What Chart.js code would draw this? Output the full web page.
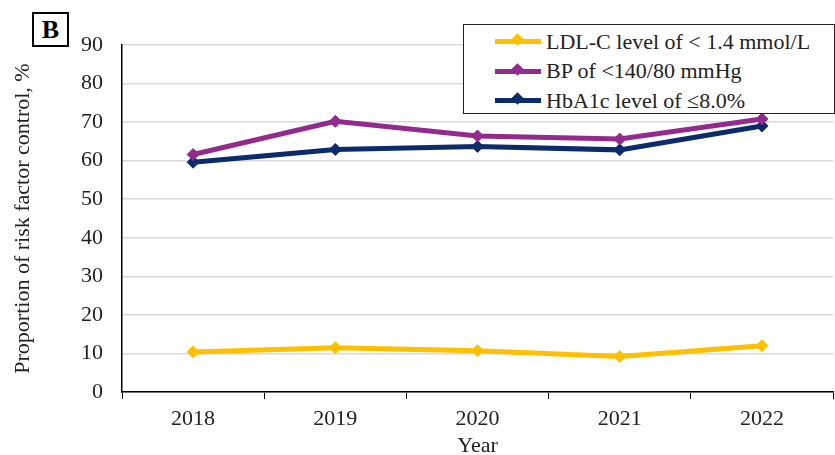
<!DOCTYPE html>
<html>
<head>
<meta charset="utf-8">
<script src="https://cdn.jsdelivr.net/npm/chart.js@4"></script>
<style>
  html,body{margin:0;padding:0;background:#fff;}
  #wrap{position:relative;width:835px;height:455px;font-family:"Liberation Serif","Times New Roman",serif;}
  canvas{position:absolute;left:0;top:0;}
  .tag{position:absolute;left:32px;top:12px;width:37px;height:35px;border:2px solid #000;box-sizing:border-box;
       font-weight:bold;font-size:26px;line-height:32px;text-align:center;background:#fff;}
  .legend{position:absolute;left:463px;top:24px;width:372px;height:90px;border:1.5px solid #222;box-sizing:border-box;
          background:#fff;padding-top:2px;}
  .row{height:29.5px;display:flex;align-items:center;font-size:22px;color:#222;}
  .sw{position:relative;width:46px;height:5px;margin-left:31px;margin-right:5px;}
  .sw i{position:absolute;left:18px;top:-4px;width:9px;height:9px;transform:rotate(45deg);}
</style>
</head>
<body>
<div id="wrap">
  <canvas id="c" width="835" height="455"></canvas>
  <div class="tag">B</div>
  <div class="legend" id="legend"></div>
</div>
<script>
const years  = ['2018','2019','2020','2021','2022'];
const ldl    = [10.4, 11.5, 10.7, 9.2, 12.0];
const bp     = [61.6, 70.2, 66.4, 65.6, 70.8];
const hba1c  = [59.6, 62.9, 63.7, 62.8, 69.0];
const names  = ['LDL-C level of < 1.4 mmol/L', 'BP of <140/80 mmHg', 'HbA1c level of \u22648.0%'];
const colors = ['#FFC000', '#932B8E', '#0C2B6B'];

const FONT = '"Liberation Serif","Times New Roman",serif';
const ds = (label, data, color) => ({
  label, data, borderColor: color, backgroundColor: color, borderWidth: 5,
  pointStyle: 'rectRot', pointRadius: 6, pointHoverRadius: 6, pointBorderWidth: 1, tension: 0
});

new Chart(document.getElementById('c'), {
  type: 'line',
  data: { labels: years, datasets: [ds(names[0], ldl, colors[0]), ds(names[1], bp, colors[1]), ds(names[2], hba1c, colors[2])] },
  options: {
    responsive: false, animation: false,
    layout: { autoPadding: false, padding: { left: 0, top: 45, right: 2, bottom: 0 } },
    plugins: { legend: { display: false }, tooltip: { enabled: false } },
    scales: {
      x: {
        offset: true,
        grid: { offset: true, drawOnChartArea: false, color: '#000', tickLength: 7, lineWidth: 1 },
        border: { color: '#000', width: 1.5 },
        ticks: { color: '#222', font: { family: FONT, size: 22 }, padding: 7 },
        title: { display: true, text: 'Year', color: '#222', font: { family: FONT, size: 22 }, padding: { top: 3, bottom: -4 } },
        afterFit: s => { s.height = 63; }
      },
      y: {
        min: 0, max: 90,
        ticks: { stepSize: 10, color: '#222', font: { family: FONT, size: 22 }, padding: 19 },
        grid: { color: '#d9d9d9', lineWidth: 1.5, drawTicks: false },
        border: { color: '#000', width: 1.5 },
        title: { display: true, text: 'Proportion of risk factor control, %', color: '#222', font: { family: FONT, size: 22 }, padding: { top: 10, bottom: 0 } },
        afterFit: s => { s.width = 122; }
      }
    }
  }
});

// legend as HTML
document.getElementById('legend').innerHTML = names.map((n, i) =>
  `<div class="row"><span class="sw" style="background:${colors[i]}"><i style="background:${colors[i]}"></i></span><span>${n}</span></div>`
).join('');
</script>
</body>
</html>
